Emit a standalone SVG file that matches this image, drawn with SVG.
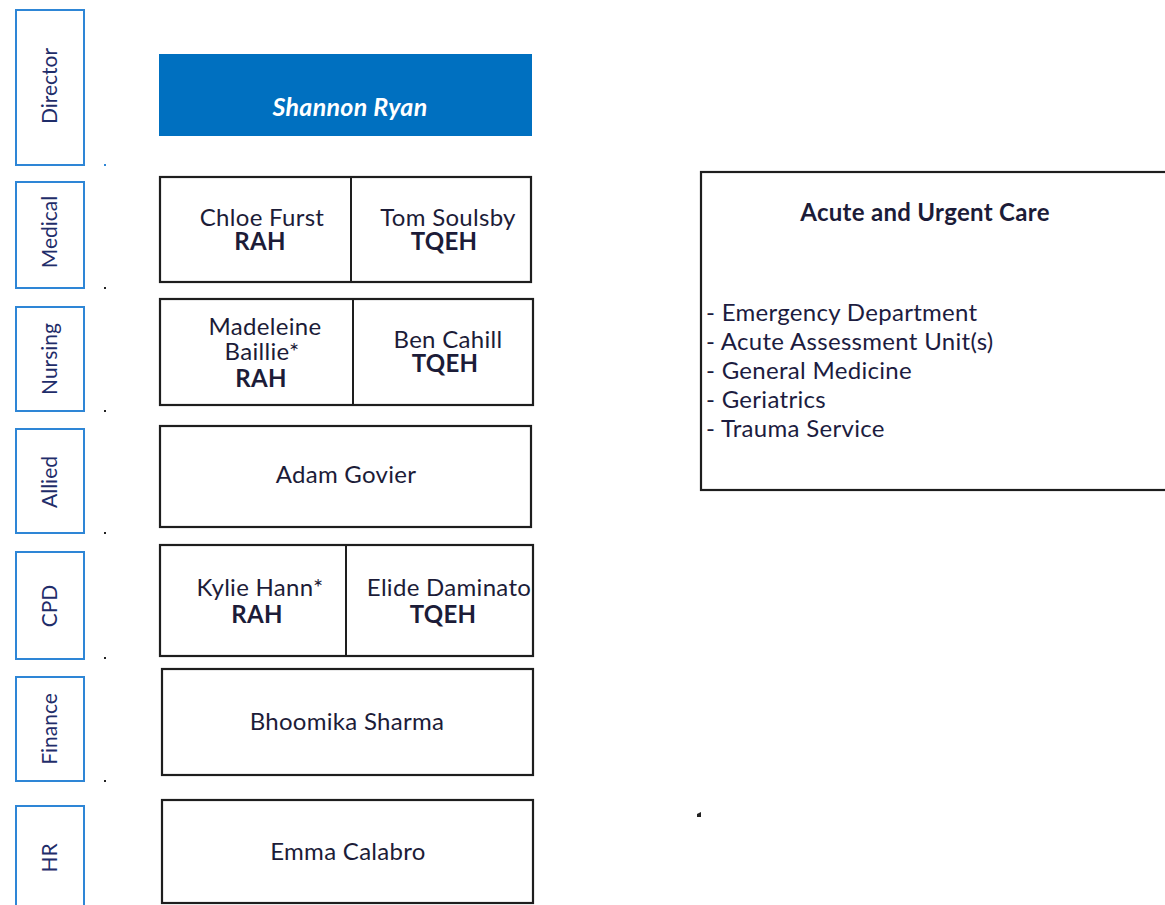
<svg xmlns="http://www.w3.org/2000/svg" width="1165" height="905" viewBox="0 0 1165 905">
<style>
.lbl{fill:#fff;stroke:#2e86d6;stroke-width:2}
.lt{font-family:Lato,"Liberation Sans",sans-serif;font-size:21px;fill:#1f2d6a;text-anchor:middle}
.box{fill:#fff;stroke:#1e1e1e;stroke-width:2.2}
.div{stroke:#1e1e1e;stroke-width:2}
.nm{font-family:Lato,"Liberation Sans",sans-serif;font-size:24px;letter-spacing:0.3px;fill:#1c1c38;text-anchor:middle}
.b{font-weight:bold}
.dot{fill:#222}
.li{font-family:Lato,"Liberation Sans",sans-serif;font-size:24px;letter-spacing:0.3px;fill:#1c1c40}
</style>
<rect width="1165" height="905" fill="#fff"/>

<g id="labels">
<g id="lbl-director"><rect class="lbl" x="16" y="10" width="68" height="155"/><text class="lt" transform="translate(57,86) rotate(-90)">Director</text></g>
<g id="lbl-medical"><rect class="lbl" x="16" y="182" width="68" height="106"/><text class="lt" transform="translate(57,232) rotate(-90)">Medical</text></g>
<g id="lbl-nursing"><rect class="lbl" x="16" y="307" width="68" height="104"/><text class="lt" transform="translate(57,359) rotate(-90)">Nursing</text></g>
<g id="lbl-allied"><rect class="lbl" x="16" y="429" width="68" height="104"/><text class="lt" transform="translate(57,482) rotate(-90)">Allied</text></g>
<g id="lbl-cpd"><rect class="lbl" x="16" y="552" width="68" height="107"/><text class="lt" transform="translate(57,606) rotate(-90)">CPD</text></g>
<g id="lbl-finance"><rect class="lbl" x="16" y="677" width="68" height="104"/><text class="lt" transform="translate(57,729) rotate(-90)">Finance</text></g>
<g id="lbl-hr"><rect class="lbl" x="16" y="806" width="68" height="110"/><text class="lt" transform="translate(57,858) rotate(-90)">HR</text></g>
</g>

<g id="dots">
<rect x="104" y="164" width="2" height="2" fill="#2e86d6"/>
<rect class="dot" x="104" y="287" width="2" height="2"/>
<rect class="dot" x="104" y="410" width="2" height="2"/>
<rect class="dot" x="104" y="532" width="2" height="2"/>
<rect class="dot" x="104" y="657" width="2" height="2"/>
<rect class="dot" x="104" y="780" width="2" height="2"/>
<path class="dot" d="M697,814 L701,812 L701,817 L697,817 Z"/>
</g>

<g id="director">
<rect x="159" y="54" width="373" height="82" fill="#0070c0"/>
<text x="350" y="116" font-family="Lato,'Liberation Sans',sans-serif" font-size="25" letter-spacing="0.3" font-style="italic" font-weight="bold" fill="#fff" text-anchor="middle">Shannon Ryan</text>
</g>

<g id="medical">
<rect class="box" x="160" y="177" width="371" height="105"/>
<line class="div" x1="351" y1="177" x2="351" y2="282"/>
<text class="nm" x="262" y="226">Chloe Furst</text>
<text class="nm b" x="260" y="250">RAH</text>
<text class="nm" x="448" y="226">Tom Soulsby</text>
<text class="nm b" x="444" y="250">TQEH</text>
</g>

<g id="nursing">
<rect class="box" x="160" y="299" width="373" height="106"/>
<line class="div" x1="353" y1="299" x2="353" y2="405"/>
<text class="nm" x="265" y="335">Madeleine</text>
<text class="nm" x="262" y="360">Baillie*</text>
<text class="nm b" x="261" y="387">RAH</text>
<text class="nm" x="448" y="348">Ben Cahill</text>
<text class="nm b" x="445" y="372">TQEH</text>
</g>

<g id="allied">
<rect class="box" x="160" y="426" width="371" height="101"/>
<text class="nm" x="346" y="483">Adam Govier</text>
</g>

<g id="cpd">
<rect class="box" x="160" y="545" width="373" height="111"/>
<line class="div" x1="346" y1="545" x2="346" y2="656"/>
<text class="nm" x="260" y="596">Kylie Hann*</text>
<text class="nm b" x="257" y="623">RAH</text>
<text class="nm" x="449" y="596">Elide Daminato</text>
<text class="nm b" x="443" y="623">TQEH</text>
</g>

<g id="finance">
<rect class="box" x="162" y="669" width="371" height="106"/>
<text class="nm" x="347" y="730">Bhoomika Sharma</text>
</g>

<g id="hr">
<rect class="box" x="162" y="800" width="371" height="103"/>
<text class="nm" x="348" y="860">Emma Calabro</text>
</g>

<g id="acute">
<rect class="box" x="701" y="172" width="480" height="318"/>
<text class="nm b" x="925" y="221" fill="#1f2060">Acute and Urgent Care</text>
<text class="li" x="706" y="321">- Emergency Department</text>
<text class="li" x="706" y="350">- Acute Assessment Unit(s)</text>
<text class="li" x="706" y="379">- General Medicine</text>
<text class="li" x="706" y="408">- Geriatrics</text>
<text class="li" x="706" y="437">- Trauma Service</text>
</g>

<g id="connectors"></g>
</svg>
